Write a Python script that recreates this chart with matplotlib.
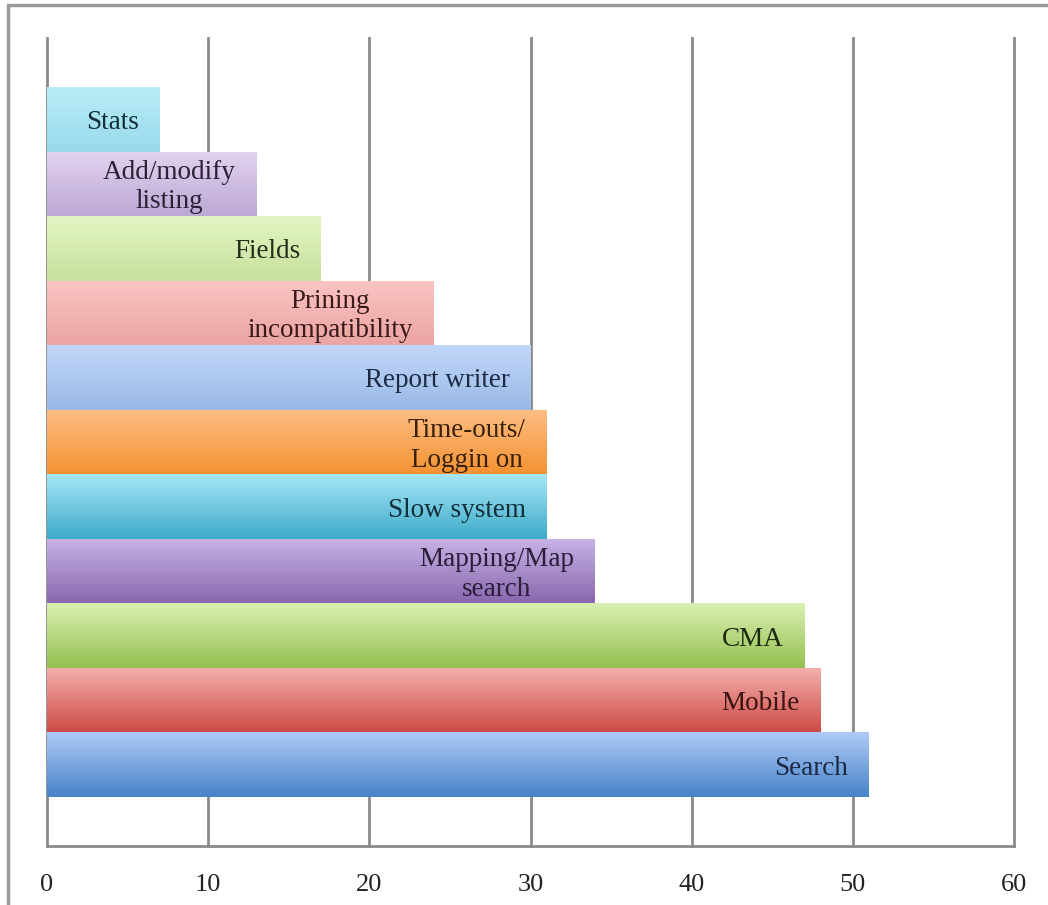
import numpy as np
import matplotlib
matplotlib.use("Agg")
import matplotlib.pyplot as plt
from matplotlib.colors import LinearSegmentedColormap
from matplotlib.patches import Rectangle

# bottom to top
categories = ["Search", "Mobile", "CMA", "Mapping/Map\nsearch", "Slow system",
              "Time-outs/\nLoggin on", "Report writer", "Prining\nincompatibility",
              "Fields", "Add/modify\nlisting", "Stats"]
values = [51, 48, 47, 34, 31, 31, 30, 24, 17, 13, 7]
xticks = [0, 10, 20, 30, 40, 50, 60]

# (top colour, bottom colour) of each bar's gradient
grad_colors = [
    ("#aecbf7", "#4683c8"),
    ("#f5b1ad", "#cd4a45"),
    ("#daf0b3", "#94c04f"),
    ("#c8b3e6", "#8767ad"),
    ("#a6e6f7", "#3eaac9"),
    ("#fdbe84", "#f49232"),
    ("#c2d8fa", "#9ab8e6"),
    ("#fac5c3", "#eba4a1"),
    ("#e3f5c4", "#c7e09c"),
    ("#e3d3f0", "#bba8d4"),
    ("#b9eef9", "#98d9ea"),
]
text_colors = ["#1c2a44", "#3a1414", "#1e2a10", "#2a1e3a", "#10303a",
               "#3a2008", "#1c2a44", "#3a1a1a", "#22301a", "#2a2236", "#123038"]

plt.rcParams['font.family'] = ['Liberation Serif', 'DejaVu Serif']

fig = plt.figure(figsize=(10.48, 9.05), dpi=100)
ax = fig.add_axes([47 / 1048, 1 - 846 / 905, (1014 - 47) / 1048, (846 - 38) / 905])

y = np.arange(len(categories))
bars = ax.barh(y, values, height=1.0, color="none", edgecolor="none", zorder=3)

grad = np.linspace(0, 1, 256).reshape(-1, 1)
for bar, (top, bottom) in zip(bars, grad_colors):
    x0, y0 = bar.get_x(), bar.get_y()
    w, h = bar.get_width(), bar.get_height()
    cmap = LinearSegmentedColormap.from_list("g", [bottom, top])
    im = ax.imshow(grad, extent=[x0, x0 + w, y0, y0 + h], origin="lower",
                   aspect="auto", cmap=cmap, zorder=3, interpolation="bicubic")
    im.set_clip_path(bar)

for yi, val, lab, tc in zip(y, values, categories, text_colors):
    ax.annotate(lab, xy=(val, yi), xytext=(-15, -2.5), textcoords="offset points",
                ha="right", va="center", multialignment="center",
                fontsize=19.5, color=tc, zorder=4, linespacing=1.22)

ax.set_xlim(0, 60)
ax.set_ylim(-1.26, len(categories) - 1 + 1.26)
ax.set_xticks(xticks)
ax.set_yticks([])
ax.tick_params(axis="x", length=0, pad=20, labelsize=19, colors="#222222")
ax.grid(axis="x", color="#8a8a8a", linewidth=2, zorder=1)
for gl in ax.get_xgridlines():
    gl.set_clip_on(False)
for side in ["top", "right", "left"]:
    ax.spines[side].set_visible(False)
ax.spines["bottom"].set_color("#8a8a8a")
ax.spines["bottom"].set_linewidth(2)

# outer frame (only left and top visible in the screenshot)
fig.patches.append(Rectangle((8 / 1048, -0.2), 1.5, 1.2 - 5 / 905,
                             transform=fig.transFigure, fill=False,
                             edgecolor="#9a9a9a", linewidth=2.5))

fig.savefig("out.png", dpi=100)
